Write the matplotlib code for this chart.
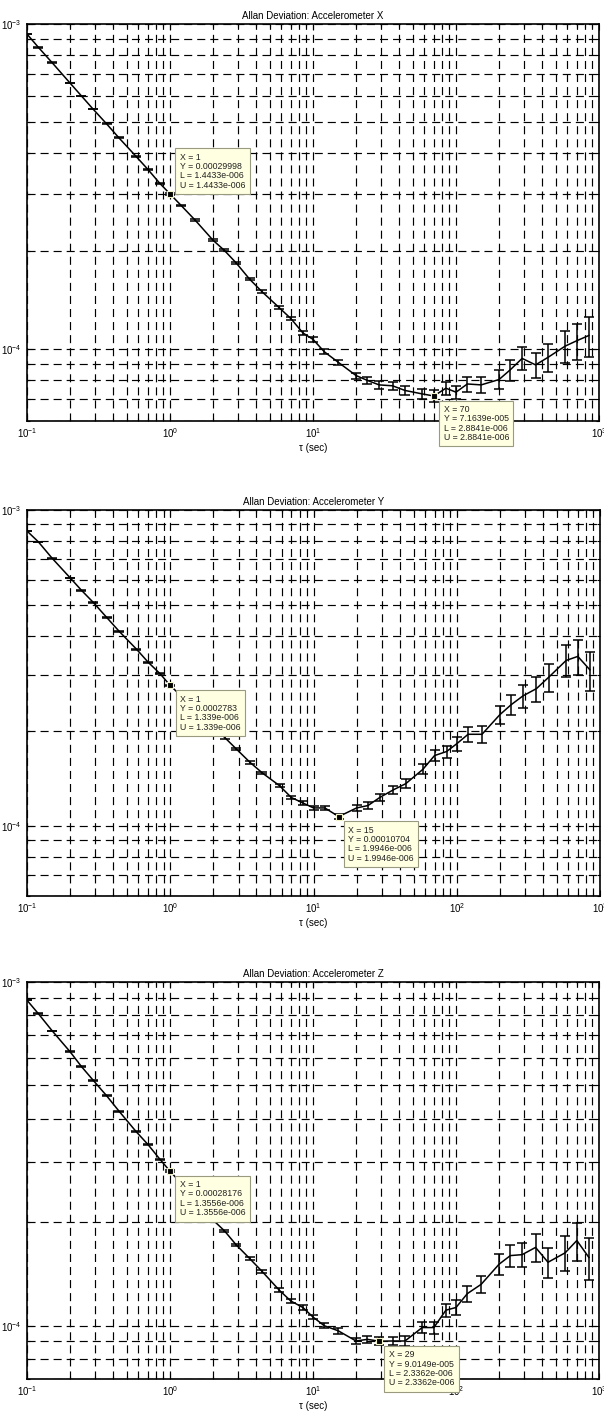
import numpy as np
import matplotlib
matplotlib.use('Agg')
import matplotlib.pyplot as plt
from matplotlib.ticker import LogLocator, NullFormatter

plt.rcParams['font.family'] = ['Liberation Sans', 'DejaVu Sans']
plt.rcParams['mathtext.default'] = 'regular'
plt.rcParams['lines.scale_dashes'] = False

# averaging times (sec)
tau = [0.1, 0.12, 0.15, 0.2, 0.24, 0.29, 0.36, 0.44, 0.58, 0.7, 0.85,
       1, 1.2, 1.5, 2, 2.4, 2.9, 3.6, 4.4, 5.8, 7, 8.5,
       10, 12, 15, 20, 24, 29, 36, 44, 58, 70, 85,
       100, 120, 150, 200, 240, 290, 360, 440, 580, 700, 850]

rel_err = [0.00152, 0.00167, 0.00186, 0.00215, 0.00236, 0.00259, 0.00289, 0.00319,
           0.00366, 0.00402, 0.00443, 0.00481, 0.00527, 0.00589, 0.00680, 0.00745,
           0.00819, 0.00913, 0.01009, 0.01158, 0.01273, 0.01402, 0.01521, 0.01666,
           0.01863, 0.02151, 0.02356, 0.02590, 0.02886, 0.03191, 0.03663, 0.04024,
           0.04435, 0.04810, 0.05269, 0.05891, 0.06802, 0.07452, 0.08191, 0.09126,
           0.10090, 0.11584, 0.12726, 0.14023]

adev_x = [9.31e-4, 8.48e-4, 7.60e-4, 6.58e-4, 6.01e-4, 5.47e-4, 4.93e-4, 4.46e-4,
          3.91e-4, 3.57e-4, 3.23e-4, 2.9998e-4, 2.76e-4, 2.49e-4, 2.16e-4, 2.01e-4,
          1.84e-4, 1.64e-4, 1.50e-4, 1.34e-4, 1.24e-4, 1.12e-4, 1.07e-4, 9.8e-5,
          9.1e-5, 8.28e-5, 8.0e-5, 7.75e-5, 7.7e-5, 7.45e-5, 7.27e-5, 7.1639e-5,
          7.57e-5, 7.36e-5, 7.8e-5, 7.75e-5, 8.05e-5, 8.63e-5, 9.35e-5, 8.93e-5,
          9.42e-5, 1.02e-4, 1.06e-4, 1.10e-4]

adev_y = [8.58e-4, 7.93e-4, 7.03e-4, 6.10e-4, 5.57e-4, 5.10e-4, 4.57e-4, 4.13e-4,
          3.63e-4, 3.30e-4, 3.03e-4, 2.783e-4, 2.57e-4, 2.34e-4, 2.06e-4, 1.905e-4,
          1.75e-4, 1.59e-4, 1.47e-4, 1.34e-4, 1.23e-4, 1.18e-4, 1.14e-4, 1.14e-4,
          1.0704e-4, 1.14e-4, 1.16e-4, 1.23e-4, 1.30e-4, 1.36e-4, 1.51e-4, 1.67e-4,
          1.72e-4, 1.82e-4, 1.95e-4, 1.95e-4, 2.25e-4, 2.42e-4, 2.58e-4, 2.72e-4,
          2.96e-4, 3.34e-4, 3.44e-4, 3.12e-4]

adev_z = [8.85e-4, 8.09e-4, 7.21e-4, 6.27e-4, 5.68e-4, 5.18e-4, 4.67e-4, 4.21e-4,
          3.67e-4, 3.37e-4, 3.05e-4, 2.8176e-4, 2.59e-4, 2.34e-4, 2.03e-4, 1.89e-4,
          1.72e-4, 1.57e-4, 1.44e-4, 1.27e-4, 1.18e-4, 1.13e-4, 1.06e-4, 1.00e-4,
          9.67e-5, 9.03e-5, 9.13e-5, 9.0149e-5, 9.03e-5, 9.03e-5, 9.88e-5, 9.88e-5,
          1.11e-4, 1.13e-4, 1.24e-4, 1.32e-4, 1.51e-4, 1.60e-4, 1.61e-4, 1.69e-4,
          1.53e-4, 1.63e-4, 1.77e-4, 1.58e-4]

titles = ['Allan Deviation: Accelerometer X',
          'Allan Deviation: Accelerometer Y',
          'Allan Deviation: Accelerometer Z']
ylims = [(6e-5, 1e-3), (6e-5, 1e-3), (7e-5, 1e-3)]

# data tips: tau, value, text of Y, text of L/U
tips_x = [(1, 2.9998e-4, '0.00029998', '1.4433e-006'),
          (70, 7.1639e-5, '7.1639e-005', '2.8841e-006')]
tips_y = [(1, 2.783e-4, '0.0002783', '1.339e-006'),
          (15, 1.0704e-4, '0.00010704', '1.9946e-006')]
tips_z = [(1, 2.8176e-4, '0.00028176', '1.3556e-006'),
          (29, 9.0149e-5, '9.0149e-005', '2.3362e-006')]

# axes boxes in pixels: left, top, right, bottom
W, H = 604, 1411
boxes = [(27, 24, 599, 421), (27, 510, 600, 896), (27, 982, 599, 1379)]

fig = plt.figure(figsize=(W / 100, H / 100), dpi=100)

data = [adev_x, adev_y, adev_z]
tips = [tips_x, tips_y, tips_z]

for i in range(3):
    l, t, r, b = boxes[i]
    ax = fig.add_axes([l / W, 1 - b / H, (r - l) / W, (b - t) / H])
    vals = np.array(data[i])
    err = vals * np.array(rel_err)
    ax.errorbar(tau, vals, yerr=err, color='k', lw=1.1, elinewidth=1.1,
                capsize=3.4, capthick=1.1, zorder=3)
    ax.set_xscale('log')
    ax.set_yscale('log')
    ax.set_xlim(0.1, 1000)
    ax.set_ylim(*ylims[i])
    ax.xaxis.set_minor_locator(LogLocator(base=10, subs=np.arange(2, 10)))
    ax.yaxis.set_minor_locator(LogLocator(base=10, subs=np.arange(2, 10)))
    ax.xaxis.set_minor_formatter(NullFormatter())
    ax.yaxis.set_minor_formatter(NullFormatter())
    ax.grid(True, which='both', color='k', lw=0.85, ls=(0, (5.8, 3.6)))
    ax.tick_params(which='both', direction='in', top=True, right=True,
                   labelsize=7, width=0.8)
    ax.tick_params(which='major', length=4, pad=4)
    ax.tick_params(which='minor', length=2)
    for s in ax.spines.values():
        s.set_linewidth(1.2)
    ax.set_title(titles[i], fontsize=7, pad=3.8)
    ax.set_xlabel('τ (sec)', fontsize=7, labelpad=2)

    for j, (tx, tv, ytxt, etxt) in enumerate(tips[i]):
        txt = 'X = %g\nY = %s\nL = %s\nU = %s' % (tx, ytxt, etxt, etxt)
        ax.plot([tx], [tv], marker='s', ms=5, mfc='k', mec='#f4f4c8',
                mew=0.8, zorder=6, clip_on=False)
        if i == 0 and j == 0:
            off, va = (7, 3), 'bottom'
        else:
            off, va = (7, -6.5), 'top'
        ax.annotate(txt, xy=(tx, tv), xytext=off, textcoords='offset points',
                    ha='left', va=va, fontsize=6.3, linespacing=1.05,
                    color='#222222', zorder=7, annotation_clip=False,
                    bbox=dict(boxstyle='square,pad=0.5', fc='#ffffe1',
                              ec='#9a9a80', lw=0.8))

fig.savefig('out.png', dpi=100)
